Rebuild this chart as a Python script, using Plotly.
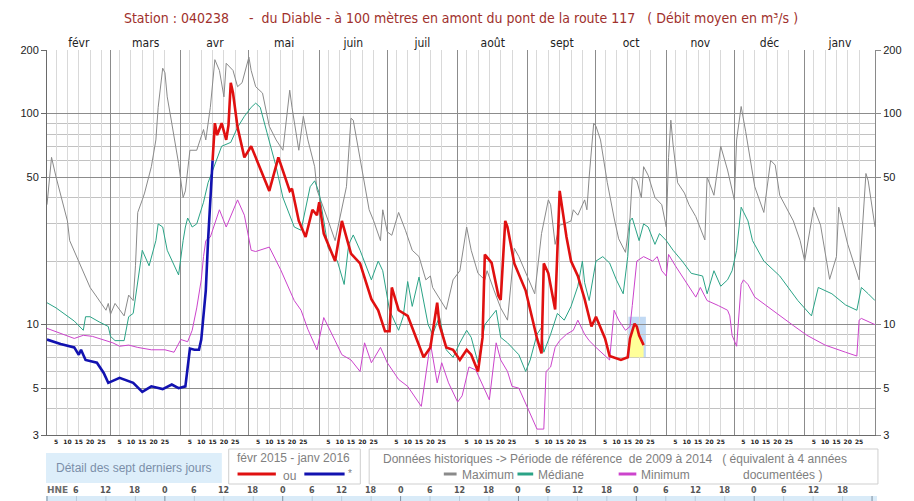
import math
import pandas as pd
import plotly.graph_objects as go

# ---------------- data (day 0 = 1 Feb 2015) ----------------
START = pd.Timestamp("2015-02-01")
END = pd.Timestamp("2016-02-01")

MONTHS = ["févr", "mars", "avr", "mai", "juin", "juil", "août", "sept", "oct", "nov", "déc", "janv"]
DAY_TICKS = [5, 10, 15, 20, 25]
Y_TICKS = [3, 5, 10, 50, 100, 200]
Y_MINOR = [4, 6, 7, 8, 9, 20, 30, 40, 60, 70, 80, 90]
HOUR_LABELS = ["6", "12", "18"] + ["0", "6", "12", "18"] * 6

max_day = [0, 2, 4, 6, 9, 10, 13, 16, 19, 22, 26, 27, 28, 30, 34, 36, 38, 39, 40, 42, 43, 46, 48, 49, 51, 52,
           53, 55, 58, 60, 61, 63, 66, 69, 70, 72, 74, 76, 78, 79, 82, 84, 86, 89, 90, 92, 95, 98, 101, 104,
           107, 108, 111, 113, 115, 118, 119, 124, 127, 132, 134, 135, 138, 140, 142, 144, 147, 148, 150, 152,
           155, 158, 161, 164, 167, 169, 170, 176, 179, 182, 185, 187, 190, 193, 194, 197, 200, 203, 206, 208,
           211, 215, 218, 221, 222, 224, 226, 228, 231, 232, 234, 237, 238, 239, 241, 242, 244, 247, 250, 252,
           255, 257, 258, 260, 262, 263, 265, 268, 271, 273, 274, 275, 276, 278, 281, 283, 286, 289, 290, 291,
           294, 297, 300, 303, 304, 306, 308, 312, 316, 319, 321, 323, 329, 332, 334, 338, 341, 345, 348, 349,
           353, 358, 361, 362, 365]
max_val = [37, 62, 50, 41, 31, 25, 21, 17.5, 15, 13.5, 11.7, 12.6, 11.2, 12.6, 11, 13.8, 13, 19, 34, 39, 42, 56,
           75, 107, 164, 156, 120, 90, 58, 40, 43, 67, 67, 84, 75, 107, 180, 160, 120, 173, 160, 134, 140, 185,
           160, 134, 125, 87, 75, 67, 129, 107, 67, 97, 75, 56, 43.5, 31, 25, 45, 95, 93, 62, 48, 35, 31, 25, 35,
           27.5, 26.5, 34, 28, 22.5, 21, 16.3, 17, 15, 11.8, 16.3, 18, 29, 22.5, 17.5, 16.3, 18, 14.6, 12, 10.5,
           23, 21, 17.5, 14, 27, 39, 37, 24, 29.6, 30, 31, 35, 33, 39, 35, 50, 90, 87, 75, 47, 32, 25.5, 22, 32,
           50, 48, 40, 56, 51, 40, 37, 29, 62, 93, 71, 47, 42, 37, 32.5, 26.6, 25.2, 50, 41, 70, 54, 39, 75, 108,
           82, 45, 34, 60, 57, 41, 31, 25, 20, 36, 29.6, 16.4, 21, 36, 24, 16.3, 52, 48, 29]

med_day = [0, 4, 12, 16, 17, 19, 23, 27, 28, 30, 34, 36, 38, 40, 42, 45, 48, 49, 51, 53, 58, 60, 61, 62, 64, 66,
           69, 71, 74, 77, 81, 84, 87, 90, 92, 94, 97, 101, 104, 109, 112, 116, 118, 120, 124, 128, 131, 133, 135,
           138, 143, 146, 148, 151, 155, 157, 159, 161, 164, 166, 168, 170, 173, 176, 179, 182, 185, 187, 190,
           193, 198, 200, 203, 208, 211, 213, 216, 218, 219, 222, 225, 228, 231, 234, 236, 237, 239, 242, 245,
           248, 251, 254, 256, 257, 258, 261, 263, 265, 268, 270, 273, 276, 280, 284, 289, 291, 294, 297, 300,
           302, 304, 306, 309, 311, 316, 323, 331, 337, 340, 346, 352, 357, 359, 362, 365]
med_val = [12.7, 12, 10.4, 9.4, 10.9, 10.9, 10.3, 9.8, 8.8, 8.4, 8.4, 10.9, 11.3, 15.7, 22.5, 19, 25, 30, 29,
           22.5, 17.2, 25, 29, 32, 29, 30, 38, 47, 58, 70, 73, 86, 97, 107, 112, 107, 81, 56, 40, 29, 28, 45, 48,
           42, 23, 20, 15.5, 24, 26.6, 22.5, 16.3, 20, 18, 11.7, 9.4, 10.9, 16, 12.2, 16.8, 13, 10, 9, 10.9, 7.6,
           7, 8.2, 9.4, 8.7, 6.6, 10, 11.7, 8.7, 8.2, 7.2, 6, 6.8, 9, 9.7, 7.4, 9, 11.3, 10.5, 12.2, 15.2, 20,
           15.8, 13, 20, 21, 19.6, 16.3, 14, 21, 31, 32, 25, 30, 29, 24, 27, 25, 22.5, 20, 17.5, 17, 14, 18, 15.2,
           16.3, 18, 22.5, 36, 31, 25, 20, 17, 13, 11, 15, 14, 12.4, 11.7, 15, 14, 13]

min_day = [0, 12, 16, 20, 29, 32, 36, 40, 46, 52, 56, 59, 62, 64, 66, 68, 69, 70, 72, 76, 79, 84, 87, 90, 92, 98,
           103, 109, 112, 115, 119, 122, 127, 130, 134, 138, 140, 143, 147, 150, 155, 159, 165, 168, 169, 172,
           174, 177, 181, 183, 186, 189, 192, 195, 198, 200, 203, 205, 208, 211, 213, 216, 219, 220, 222, 224,
           226, 229, 232, 234, 237, 239, 242, 245, 248, 250, 252, 255, 257, 258, 260, 263, 267, 269, 271, 273,
           274, 277, 281, 286, 288, 291, 296, 300, 301, 302, 304, 306, 307, 309, 312, 317, 323, 329, 335, 343,
           352, 357, 358, 359, 365]
min_val = [9.6, 8.6, 8.9, 8.8, 8.2, 7.9, 8.0, 7.8, 7.6, 7.6, 7.4, 8.5, 8.3, 9.4, 12, 16.3, 21, 25, 26, 35, 29, 39,
           33, 22.5, 22.2, 23.3, 18.2, 13, 11.7, 9.5, 7.6, 10.8, 8.4, 7.2, 6.8, 6.0, 8.2, 6.6, 7.8, 6.6, 5.5, 5.1,
           4.1, 7.1, 8.2, 5.3, 6.6, 5.3, 4.3, 4.6, 6.3, 6.1, 5.2, 4.4, 8.2, 6.8, 6.0, 5.1, 5.0, 4.2, 3.8, 3.2, 3.2,
           6.0, 6.3, 7.8, 8.4, 9, 9.4, 10.5, 9, 8.4, 7.8, 7.3, 6.8, 11.7, 10.5, 9.4, 9.8, 12.3, 20, 21, 20, 21, 18,
           17, 21.5, 19, 16.3, 13.5, 15, 13, 12.3, 11.7, 11, 8.9, 7.9, 15.5, 16.3, 15.5, 13.5, 12.3, 11, 9.9, 8.9,
           8, 7.4, 7.1, 10.5, 10.7, 10]

blue_day = [0, 6, 12, 14, 15, 17, 22, 25, 27, 30, 32, 38, 42, 46, 51, 55, 58, 61, 62, 63, 65, 67, 68, 69, 70,
            71, 72, 73]
blue_val = [8.5, 8.1, 7.8, 7.2, 7.6, 6.8, 6.6, 5.9, 5.3, 5.5, 5.6, 5.3, 4.8, 5.1, 4.95, 5.2, 5.0, 5.1, 6.2, 7.7,
            7.6, 7.6, 8.5, 11.5, 14.5, 25, 42, 60]

red_day = [73, 74, 75, 77, 79, 80, 81, 82, 84, 87, 90, 92, 95, 98, 102, 105, 107, 108, 111, 114, 117, 119, 120,
           122, 127, 130, 134, 138, 143, 146, 149, 151, 152, 155, 159, 163, 166, 169, 172, 173, 176, 179, 182,
           185, 187, 190, 192, 193, 196, 199, 200, 202, 203, 206, 211, 214, 216, 218, 219, 221, 224, 226, 227,
           229, 231, 234, 237, 240, 242, 246, 248, 253, 256, 257, 259, 260, 261, 263]
red_val = [60, 90, 79, 90, 75, 88, 140, 125, 86, 62, 70, 62, 52, 43, 62, 50, 43, 44, 31, 26, 35, 33, 38, 27, 20,
           31, 21.7, 19.5, 13.2, 11.7, 9.3, 9.3, 15, 11.7, 11, 8.5, 7.0, 7.8, 12.7, 10, 7.8, 7.6, 6.8, 7.6, 7.2,
           6.0, 8.7, 21.5, 19.6, 13.7, 13.1, 31, 29, 19.5, 14.5, 10.6, 8.6, 7.3, 19.5, 17.5, 11.8, 43, 36, 26, 20,
           17, 13.2, 9.8, 10.9, 8.6, 7.1, 6.8, 7.0, 8.6, 10.1, 9.8, 8.9, 8.0]

# last seven days highlight (days, flow range)
last7_day_range = [256.3, 264.0]
last7_val_range = [7.0, 10.9]

TITLE = ("Station : 040238&nbsp;&nbsp;&nbsp;&nbsp;&nbsp;-&nbsp;&nbsp;du Diable - à 100 mètres en amont du pont "
         "de la route 117&nbsp;&nbsp;&nbsp;( Débit moyen en m³/s )")


def dates(days):
    return [START + pd.Timedelta(days=float(d)) for d in days]


# ---------------- styling constants ----------------
OFF = 8                      # page body margin of the browser
W, H = 914 - OFF, 501 - OFF
ML, MR, MT, MB = 32, 31, 42, 66
PW = W - ML - MR
PH = H - MT - MB


def px(x):   # page pixel -> paper x
    return (x - OFF - ML) / PW


def py(y):   # page pixel -> paper y
    return (OFF + MT + PH - y) / PH


NARROW = "Liberation Sans Narrow, Arial Narrow, DejaVu Sans Condensed, sans-serif"
SANS = "Liberation Sans, Arial, sans-serif"
C_MAX, C_MED, C_MIN = "#8a8a8a", "#2aa386", "#cc44cc"
C_RED, C_BLUE = "#e01010", "#1212b0"

month_starts = list(pd.date_range(START, END, freq="MS"))
month_mids = [s + (e - s) / 2 for s, e in zip(month_starts[:-1], month_starts[1:])]
day_tick_vals, day_tick_text = [], []
for s in month_starts[:-1]:
    for d in DAY_TICKS:
        day_tick_vals.append(s + pd.Timedelta(days=d - 1))
        day_tick_text.append(str(d))

fig = go.Figure()

# empty carriers so that the overlay axes (month grid, month names, right scale) are drawn
for xa, ya in [("x2", "y"), ("x3", "y"), ("x", "y2")]:
    fig.add_trace(go.Scatter(x=[], y=[], mode="lines", xaxis=xa, yaxis=ya, hoverinfo="skip"))

# yellow fill under last seven days
l7_day = [d for d in red_day if d >= last7_day_range[0]]
l7_val = [v for d, v in zip(red_day, red_val) if d >= last7_day_range[0]]
fig.add_trace(go.Scatter(x=dates(l7_day), y=[last7_val_range[0]] * len(l7_day), mode="lines",
                         line=dict(width=0), hoverinfo="skip"))
fig.add_trace(go.Scatter(x=dates(l7_day), y=l7_val, mode="lines", fill="tonexty",
                         fillcolor="#ffff99", line=dict(width=0), hoverinfo="skip"))

fig.add_trace(go.Scatter(x=dates(max_day), y=max_val, mode="lines", name="Maximum",
                         line=dict(color=C_MAX, width=1)))
fig.add_trace(go.Scatter(x=dates(med_day), y=med_val, mode="lines", name="Médiane",
                         line=dict(color=C_MED, width=1)))
fig.add_trace(go.Scatter(x=dates(min_day), y=min_val, mode="lines", name="Minimum",
                         line=dict(color=C_MIN, width=1)))
fig.add_trace(go.Scatter(x=dates(blue_day), y=blue_val, mode="lines", name="*",
                         line=dict(color=C_BLUE, width=2.6)))
fig.add_trace(go.Scatter(x=dates(red_day), y=red_val, mode="lines", name="févr 2015 - janv 2016",
                         line=dict(color=C_RED, width=2.6)))

shapes = [
    dict(type="rect", xref="x", yref="y", layer="below",
         x0=START + pd.Timedelta(days=last7_day_range[0]), x1=START + pd.Timedelta(days=last7_day_range[1]),
         y0=last7_val_range[0], y1=last7_val_range[1], fillcolor="#c2daf4", line=dict(width=0)),
    # bottom boxes
    dict(type="rect", xref="paper", yref="paper", x0=px(39), x1=px(218), y0=py(483), y1=py(453),
         fillcolor="#ddeefa", line=dict(width=0)),
    dict(type="rect", xref="paper", yref="paper", x0=px(225), x1=px(359), y0=py(484), y1=py(449),
         fillcolor="white", line=dict(color="#cfcfcf", width=1)),
    dict(type="rect", xref="paper", yref="paper", x0=px(368), x1=px(886), y0=py(484), y1=py(449),
         fillcolor="white", line=dict(color="#cfcfcf", width=1)),
    dict(type="rect", xref="paper", yref="paper", x0=px(39), x1=px(885), y0=py(501), y1=py(496),
         fillcolor="#d9ebf8", line=dict(width=0)),
]
for x0, x1, c in [(234, 273, C_RED), (302, 343, C_BLUE), (444, 457, C_MAX), (519, 535, C_MED), (622, 640, C_MIN)]:
    shapes.append(dict(type="line", xref="paper", yref="paper", x0=px(x0), x1=px(x1), y0=py(474), y1=py(474),
                       line=dict(color=c, width=3)))
for i in range(29):
    xx = 40 + 30 * i
    shapes.append(dict(type="line", xref="paper", yref="paper", x0=px(xx), x1=px(xx), y0=py(501), y1=py(496),
                       line=dict(color="#7f8f9f" if i % 4 == 0 else "#b9cbdb", width=1)))

ann = []


def txt(text, x, y, size=12, color="#808080", anchor="center", family=SANS, weight="normal"):
    ann.append(dict(text=text, x=px(x), y=py(y), xref="paper", yref="paper", showarrow=False,
                    xanchor=anchor, yanchor="middle",
                    font=dict(size=size, color=color, family=family, weight=weight)))


txt("Détail des sept derniers jours", 128, 468, size=12, color="#7b8ea9")
txt("févr 2015 - janv 2016", 291, 458, size=12)
txt("ou", 287, 476, size=12)
txt("*", 348, 473, size=10)
txt("Données historiques -> Période de référence&nbsp;&nbsp;de 2009 à 2014&nbsp;&nbsp;&nbsp;( équivalent à 4 années",
    380, 459, size=12, anchor="left")
txt("Maximum", 460, 475, size=12, anchor="left")
txt("Médiane", 538, 475, size=12, anchor="left")
txt("Minimum", 643, 475, size=12, anchor="left")
txt("documentées )", 747, 475, size=12, anchor="left")
txt("HNE", 51, 490, size=9, color="#6d6d6d", family="DejaVu Sans", weight="bold")
for i, lab in enumerate(HOUR_LABELS):
    txt(lab, 70 + 30 * i, 490, size=8, color="#555555", family="DejaVu Sans", weight="bold")

yr = [math.log10(3), math.log10(200)]
fig.update_layout(
    width=W, height=H, margin=dict(l=ML, r=MR, t=MT, b=MB),
    paper_bgcolor="white", plot_bgcolor="white", showlegend=False,
    title=dict(text=TITLE, x=(461 - OFF) / W, xanchor="center", y=1 - (18 - OFF) / H, yanchor="middle",
               font=dict(family=NARROW, size=14, color="#a0302c")),
    xaxis=dict(type="date", range=[START, END], tickmode="array", tickvals=day_tick_vals,
               ticktext=day_tick_text, showgrid=True, gridcolor="#d9d9d9", gridwidth=1, ticks="",
               tickangle=0, ticklabelstandoff=1,
               tickfont=dict(size=6, family="DejaVu Sans", weight="bold", color="#222222"),
               showline=True, linecolor="#6a6a6a", linewidth=1, zeroline=False),
    xaxis2=dict(type="date", range=[START, END], overlaying="x", anchor="y", side="top",
                tickmode="array", tickvals=month_starts, showticklabels=False, showgrid=True,
                gridcolor="#8c8c8c", gridwidth=1, ticks="", showline=False, zeroline=False),
    xaxis3=dict(type="date", range=[START, END], overlaying="x", anchor="y", side="top",
                tickmode="array", tickvals=month_mids, ticktext=MONTHS, showgrid=False, ticks="",
                tickangle=0, ticklabelstandoff=0,
                tickfont=dict(family=NARROW, size=12, color="#222222"), showline=False, zeroline=False),
    yaxis=dict(type="log", range=yr, tickmode="array", tickvals=Y_TICKS, ticktext=[str(v) for v in Y_TICKS],
               showgrid=True, gridcolor="#8c8c8c", gridwidth=1,
               minor=dict(tickmode="array", tickvals=Y_MINOR, showgrid=True, gridcolor="#c2c2c2", ticks=""),
               ticks="outside", ticklen=5, tickcolor="#6a6a6a", showline=True, linecolor="#6a6a6a",
               tickfont=dict(family=SANS, size=11, color="#222222"), zeroline=False),
    yaxis2=dict(type="log", range=yr, overlaying="y", anchor="x", side="right", tickmode="array",
                tickvals=Y_TICKS, ticktext=[str(v) for v in Y_TICKS], showgrid=False,
                ticks="outside", ticklen=5, tickcolor="#8a8a8a", showline=True, linecolor="#8a8a8a",
                tickfont=dict(family=SANS, size=11, color="#222222"), zeroline=False),
    shapes=shapes, annotations=ann,
)

fig.write_html("out.html")
